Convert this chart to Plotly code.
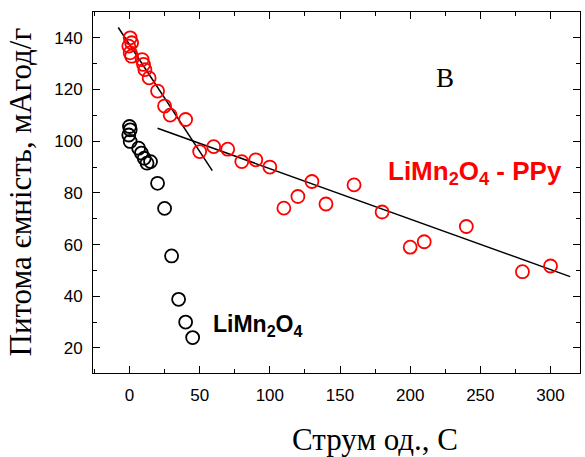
import plotly.graph_objects as go

# LiMn2O4-PPy (red)
ppy_x = [0.5, 1.5, -0.5, 0.5, 1.5, 9, 10, 11, 14, 20, 25, 29, 40, 50, 60, 70, 80, 90, 100,
         110, 120, 130, 140, 160, 180, 200, 210, 240, 280, 300]
ppy_y = [140, 138.1, 136.8, 134.2, 132.9, 131.6, 129.7, 127.7, 124.5, 119.4, 113.6, 110.1,
         108.4, 96, 97.9, 96.9, 92.1, 92.8, 90, 74.1, 78.6, 84.4, 75.7, 83.1, 72.6, 59, 61.1,
         67, 49.5, 51.7]

# LiMn2O4 (black)
lmo_x = [0, 0.5, -0.5, 0.5, 6.5, 8.5, 10.5, 12.5, 15, 20, 25, 30, 35, 40, 45]
lmo_y = [105.7, 104.4, 102.4, 99.9, 97.3, 95.4, 93.4, 91.5, 92.1, 83.7, 74, 55.6, 38.8, 30, 24]

# fit lines
fit1_x = [-8, 59]
fit1_y = [144, 88.6]
fit2_x = [20, 314]
fit2_y = [105, 47.6]

x_ticks = [0, 50, 100, 150, 200, 250, 300]
y_ticks = [20, 40, 60, 80, 100, 120, 140]

fig = go.Figure()
fig.add_trace(go.Scatter(x=fit1_x, y=fit1_y, mode="lines",
                         line=dict(color="black", width=1.5), showlegend=False))
fig.add_trace(go.Scatter(x=fit2_x, y=fit2_y, mode="lines",
                         line=dict(color="black", width=1.5), showlegend=False))
fig.add_trace(go.Scatter(x=ppy_x, y=ppy_y, mode="markers",
                         marker=dict(symbol="circle-open", size=13, color="#ff0000",
                                     line=dict(width=1.8, color="#ff0000")),
                         showlegend=False))
fig.add_trace(go.Scatter(x=lmo_x, y=lmo_y, mode="markers",
                         marker=dict(symbol="circle-open", size=13, color="black",
                                     line=dict(width=1.8, color="black")),
                         showlegend=False))

tickfont = dict(family="Liberation Sans, Arial", size=17, color="black")
fig.update_xaxes(range=[-26, 321], tickvals=x_ticks, ticks="inside", ticklen=7,
                 tickwidth=1, tickcolor="black", showline=True, linecolor="black",
                 linewidth=1, mirror="ticks", showgrid=False, zeroline=False,
                 tickfont=tickfont, ticklabelstandoff=7,
                 minor=dict(ticks="inside", ticklen=4, dtick=25, tick0=0,
                            tickcolor="black", showgrid=False))
fig.update_yaxes(range=[10.3, 150], tickvals=y_ticks, ticks="inside", ticklen=7,
                 tickwidth=1, tickcolor="black", showline=True, linecolor="black",
                 linewidth=1, mirror="ticks", showgrid=False, zeroline=False,
                 tickfont=tickfont, ticklabelstandoff=6,
                 minor=dict(ticks="inside", ticklen=4, dtick=10, tick0=0,
                            tickcolor="black", showgrid=False))

serif = "Liberation Serif, Times New Roman"
fig.add_annotation(text="Питома ємність, мАгод/г", xref="paper", yref="paper",
                   x=0, y=0.5, xanchor="center", yanchor="middle", xshift=-73,
                   textangle=-90, showarrow=False,
                   font=dict(family=serif, size=31, color="black"))
fig.add_annotation(text="Струм од., С", xref="paper", yref="paper",
                   x=0.579, y=0, xanchor="center", yanchor="middle", yshift=-66,
                   showarrow=False, font=dict(family=serif, size=31, color="black"))
fig.add_annotation(text="В", x=225, y=124.5, xanchor="center", yanchor="middle",
                   showarrow=False, font=dict(family=serif, size=27, color="black"))
fig.add_annotation(text="<b>LiMn<sub>2</sub>O<sub>4</sub> - PPy</b>", x=246, y=88,
                   xanchor="center", yanchor="middle", showarrow=False,
                   font=dict(family="Liberation Sans, Arial", size=26, color="#ff0000"))
fig.add_annotation(text="<b>LiMn<sub>2</sub>O<sub>4</sub></b>", x=58, y=28.5,
                   xanchor="left", yanchor="middle", showarrow=False,
                   font=dict(family="Liberation Sans, Arial", size=23, color="black"))

fig.update_layout(width=585, height=457, margin=dict(l=93, r=5, t=12, b=84),
                  plot_bgcolor="white", paper_bgcolor="white")
fig.write_html("out.html")
